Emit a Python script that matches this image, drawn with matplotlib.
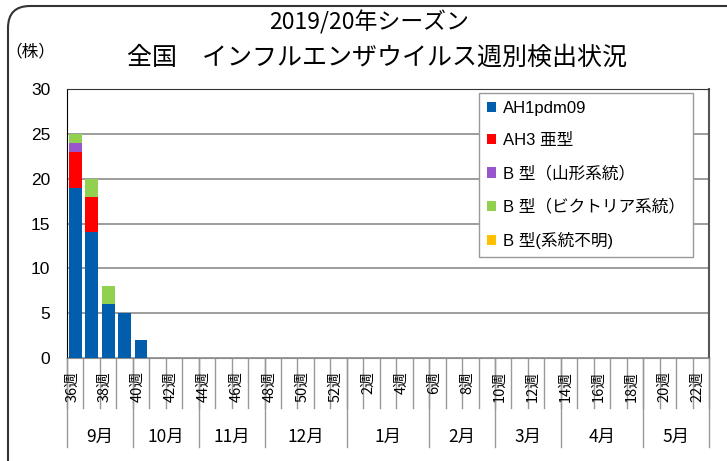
import numpy as np
import matplotlib
matplotlib.use('Agg')
import matplotlib.pyplot as plt
from matplotlib.patches import FancyBboxPatch
from matplotlib.transforms import IdentityTransform, blended_transform_factory

plt.rcParams['font.family'] = ['Noto Sans CJK JP', 'DejaVu Sans']
arial_like = ['Liberation Sans', 'Noto Sans CJK JP']

# weeks of the 2019/20 season
weeks = [36, 37, 38, 39, 40, 41, 42, 43, 44, 45, 46, 47, 48, 49, 50, 51, 52,
         1, 2, 3, 4, 5, 6, 7, 8, 9, 10, 11, 12, 13, 14, 15, 16, 17, 18, 19, 20, 21, 22]
week_labels = [36, 38, 40, 42, 44, 46, 48, 50, 52, 2, 4, 6, 8, 10, 12, 14, 16, 18, 20, 22]

months = ['9月', '10月', '11月', '12月', '1月', '2月', '3月', '4月', '5月']
month_weeks = [4, 4, 4, 5, 5, 4, 4, 5, 4]

series_names = ['AH1pdm09', 'AH3 亜型', 'B 型（山形系統）', 'B 型（ビクトリア系統）', 'B 型(系統不明)']
ah1 = [19, 14, 6, 5, 2, 0, 0, 0, 0, 0, 0, 0, 0, 0, 0, 0, 0,
       0, 0, 0, 0, 0, 0, 0, 0, 0, 0, 0, 0, 0, 0, 0, 0, 0, 0, 0, 0, 0, 0]
ah3 = [4, 4, 0, 0, 0, 0, 0, 0, 0, 0, 0, 0, 0, 0, 0, 0, 0,
       0, 0, 0, 0, 0, 0, 0, 0, 0, 0, 0, 0, 0, 0, 0, 0, 0, 0, 0, 0, 0, 0]
b_yam = [1, 0, 0, 0, 0, 0, 0, 0, 0, 0, 0, 0, 0, 0, 0, 0, 0,
         0, 0, 0, 0, 0, 0, 0, 0, 0, 0, 0, 0, 0, 0, 0, 0, 0, 0, 0, 0, 0, 0]
b_vic = [1, 2, 2, 0, 0, 0, 0, 0, 0, 0, 0, 0, 0, 0, 0, 0, 0,
         0, 0, 0, 0, 0, 0, 0, 0, 0, 0, 0, 0, 0, 0, 0, 0, 0, 0, 0, 0, 0, 0]
b_unk = [0, 0, 0, 0, 0, 0, 0, 0, 0, 0, 0, 0, 0, 0, 0, 0, 0,
         0, 0, 0, 0, 0, 0, 0, 0, 0, 0, 0, 0, 0, 0, 0, 0, 0, 0, 0, 0, 0, 0]

colors = ['#005EAC', '#FF0000', '#9955CC', '#92D050', '#FFC000']

fig = plt.figure(figsize=(7.27, 4.61), dpi=100)
ax = fig.add_axes([67 / 727, 1 - 358 / 461, 642 / 727, 269 / 461])

x = np.arange(len(weeks))
bottom = np.zeros(len(weeks))
for vals, name, c in zip([ah1, ah3, b_yam, b_vic, b_unk], series_names, colors):
    ax.bar(x, vals, bottom=bottom, width=0.78, color=c, label=name, zorder=3)
    bottom += np.array(vals)

ax.set_xlim(-0.5, len(weeks) - 0.5)
ax.set_ylim(0, 30)
ax.set_yticks(range(0, 31, 5))
ax.tick_params(axis='y', length=0, labelsize=12.5, pad=12)
for lab in ax.get_yticklabels():
    lab.set_family(arial_like)
ax.set_xticks([])
ax.grid(axis='y', color='#8c8c8c', lw=1.2, zorder=0)
ax.spines['left'].set_color('black')
ax.spines['top'].set_color('#333333')
ax.spines['right'].set_color('#555555')
ax.spines['right'].set_linewidth(1.5)
ax.spines['bottom'].set_color('#8c8c8c')

# week and month axis below the plot
trans = blended_transform_factory(ax.transData, ax.transAxes)
for i in range(len(weeks) + 1):
    ax.plot([i - 0.5, i - 0.5], [0, -0.186], color='#999999', lw=1,
            transform=trans, clip_on=False)
for i, w in enumerate(weeks):
    if w in week_labels:
        ax.text(i - 0.2, -0.048, f'{w}週', rotation=90, ha='center', va='top',
                fontsize=10.5, transform=trans)

start = 0
for m, n in zip(months, month_weeks):
    ax.plot([start - 0.5, start - 0.5], [0, -0.331], color='#999999', lw=1,
            transform=trans, clip_on=False)
    ax.text(start - 0.5 + n / 2, -0.294, m, ha='center', va='center',
            fontsize=12.5, transform=trans)
    start += n
ax.plot([start - 0.5, start - 0.5], [0, -0.331], color='#999999', lw=1,
        transform=trans, clip_on=False)

leg = ax.legend(loc='upper right', bbox_to_anchor=(0.975, 0.985),
                prop={'family': arial_like, 'size': 12},
                handlelength=0.55, handleheight=0.55, handletextpad=0.45,
                labelspacing=1.05, fancybox=False, framealpha=1,
                edgecolor='#999999', borderpad=0.45, borderaxespad=0)
leg.get_frame().set_linewidth(1)

fig.text(369 / 727, 1 - 22 / 461, '2019/20年シーズン', ha='center', va='center',
         fontsize=16.5)
fig.text(377 / 727, 1 - 58 / 461, '全国　インフルエンザウイルス週別検出状況',
         ha='center', va='center', fontsize=18)
fig.text(30 / 727, 1 - 52 / 461, '（株）', ha='center', va='center', fontsize=12)

border = FancyBboxPatch((8, -200), 800, 655, boxstyle='round,pad=0,rounding_size=22',
                        transform=IdentityTransform(), fill=False,
                        edgecolor='#333333', lw=1.5)
fig.patches.append(border)

fig.savefig('out.png', dpi=100)
